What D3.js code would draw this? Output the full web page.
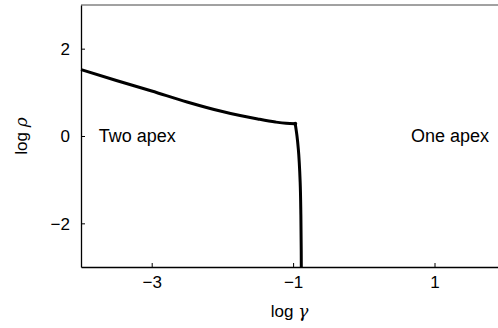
<!DOCTYPE html>
<html>
<head>
<meta charset="utf-8">
<script src="https://cdn.jsdelivr.net/npm/d3@7"></script>
<style>
  html, body { margin: 0; padding: 0; background: #fff; overflow: hidden; }
  svg { display: block; }
  svg text { font-family: "Liberation Sans", Arial, sans-serif; }
</style>
</head>
<body>
<div id="chart"></div>
<script>
// boundary curve, upper branch (log gamma, log rho)
var upperX = [-4.0, -3.5, -3.0, -2.5, -2.0, -1.75, -1.5, -1.25, -1.1, -0.97]
var upperY = [1.52, 1.27, 1.03, 0.78, 0.56, 0.47, 0.39, 0.32, 0.29, 0.28]
// lower, nearly vertical branch
var lowerX = [-0.97, -0.945, -0.926, -0.90, -0.89, -0.884]
var lowerY = [0.28, 0.0, -0.30, -1.06, -1.82, -3.0]
var xTicks = [-3, -1, 1]
var yTicks = [-2, 0, 2]
var regionLabels = ["Two apex", "One apex"]

var W = 498, H = 328
var margin = { top: 5, right: 0, bottom: 61, left: 81 }

var svg = d3.select("#chart").append("svg")
    .attr("width", W).attr("height", H)

// plot area runs a little past the right edge of the picture
var x = d3.scaleLinear().domain([-4, 2]).range([margin.left, margin.left + 6 * 70.7])
var y = d3.scaleLinear().domain([-3, 3]).range([H - margin.bottom, margin.top])

function fmt(d) { return d < 0 ? "\u2212" + Math.abs(d) : d }

// frame: top line, left and bottom axes
svg.append("line")
    .attr("x1", x(-4)).attr("x2", x(2))
    .attr("y1", y(3)).attr("y2", y(3))
    .attr("stroke", "#444").attr("stroke-width", 1)

var xAxis = svg.append("g")
    .attr("transform", "translate(0," + y(-3) + ")")
    .call(d3.axisBottom(x).tickValues(xTicks).tickSizeInner(-4).tickSizeOuter(0)
        .tickPadding(9).tickFormat(fmt))
var yAxis = svg.append("g")
    .attr("transform", "translate(" + x(-4) + ",0)")
    .call(d3.axisLeft(y).tickValues(yTicks).tickSizeInner(-4).tickSizeOuter(0)
        .tickPadding(11).tickFormat(fmt))

svg.selectAll(".domain").attr("stroke", "#000").attr("stroke-width", 1.3)
svg.selectAll(".tick line").attr("stroke", "#000")
svg.selectAll(".tick text").attr("font-size", 17).attr("fill", "#000")
    .attr("font-family", "Liberation Sans, Arial, sans-serif")
yAxis.selectAll(".tick text").attr("dy", "0.35em")

// curves
var upper = upperX.map(function (v, i) { return [v, upperY[i]] })
var lower = lowerX.map(function (v, i) { return [v, lowerY[i]] })

svg.append("path")
    .datum(upper)
    .attr("fill", "none").attr("stroke", "#000").attr("stroke-width", 3)
    .attr("d", d3.line()
        .x(function (d) { return x(d[0]) })
        .y(function (d) { return y(d[1]) })
        .curve(d3.curveMonotoneX))
svg.append("path")
    .datum(lower)
    .attr("fill", "none").attr("stroke", "#000").attr("stroke-width", 3)
    .attr("d", d3.line()
        .x(function (d) { return x(d[0]) })
        .y(function (d) { return y(d[1]) })
        .curve(d3.curveMonotoneY))
svg.append("circle")
    .attr("cx", x(upperX[upperX.length - 1])).attr("cy", y(upperY[upperY.length - 1]))
    .attr("r", 2).attr("fill", "#000")

// region labels
svg.append("text")
    .attr("x", x(-3.75)).attr("y", y(0)).attr("dy", "0.35em")
    .attr("font-size", 18).text(regionLabels[0])
svg.append("text")
    .attr("x", x(1.77)).attr("y", y(0)).attr("dy", "0.35em")
    .attr("text-anchor", "end")
    .attr("font-size", 18).text(regionLabels[1])

// axis titles
var xt = svg.append("text")
    .attr("x", x(-1.05)).attr("y", 317)
    .attr("text-anchor", "middle").attr("font-size", 17)
xt.append("tspan").text("log ")
xt.append("tspan").attr("font-style", "italic").attr("font-family", "DejaVu Serif, serif").text("\u03b3")

var yt = svg.append("text")
    .attr("transform", "translate(27," + y(0) + ") rotate(-90)")
    .attr("text-anchor", "middle").attr("font-size", 17)
yt.append("tspan").text("log ")
yt.append("tspan").attr("font-style", "italic").attr("font-family", "DejaVu Serif, serif").text("\u03c1")
</script>
</body>
</html>
